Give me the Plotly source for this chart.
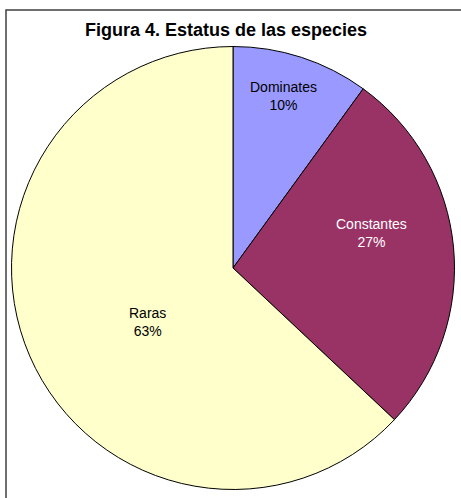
import math
import plotly.graph_objects as go

# --- Data ---
labels = ["Dominates", "Constantes", "Raras"]
values = [10, 27, 63]
colors = ["#9999FF", "#993366", "#FFFFCC"]
text_colors = ["#000000", "#FFFFFF", "#000000"]

# label placement (fraction of radius, angular nudge in degrees) — style only
label_r = [0.81, 0.645, 0.458]
label_nudge = [-1.7, -8.7, -8.7]

W, H = 461, 498
CX, CY, R = 233, 268, 221.5  # pie centre / radius in pixels

fig = go.Figure(go.Pie(
    labels=labels,
    values=values,
    sort=False,
    direction="clockwise",
    rotation=0,
    marker=dict(colors=colors, line=dict(color="#000000", width=1)),
    textinfo="none",
    domain=dict(x=[(CX - R) / W, (CX + R) / W], y=[1 - (CY + R) / H, 1 - (CY - R) / H]),
    showlegend=False,
    hoverinfo="label+percent",
))

# data labels, placed along each slice's mid-angle
total = sum(values)
cum = 0
for lab, v, col, f, nudge in zip(labels, values, text_colors, label_r, label_nudge):
    mid = (cum + v / 2) / total * 360 + nudge
    cum += v
    px = CX + R * f * math.sin(math.radians(mid))
    py = CY - R * f * math.cos(math.radians(mid))
    fig.add_annotation(
        x=px / W, y=1 - py / H, xref="paper", yref="paper",
        xanchor="center", yanchor="middle",
        text=f"{lab}<br>{round(v / total * 100)}%",
        showarrow=False, align="center",
        font=dict(family="Liberation Sans, Arial", size=14, color=col),
    )

# chart-area frame (only left and top edges are visible in the crop)
fig.add_shape(
    type="rect", xref="paper", yref="paper",
    x0=6 / W, x1=1.05, y0=-0.05, y1=1 - 10 / H,
    line=dict(color="#404040", width=1.5),
)

fig.update_layout(
    width=W, height=H,
    paper_bgcolor="#FFFFFF",
    plot_bgcolor="#FFFFFF",
    margin=dict(l=0, r=0, t=0, b=0),
    title=dict(
        text="<b>Figura 4. Estatus de las especies</b>",
        x=226 / W, xanchor="center",
        y=1 - 30 / H, yanchor="middle",
        font=dict(family="Liberation Sans, Arial", size=18, color="#000000"),
    ),
)

fig.write_html(
    "out.html",
    config={"displayModeBar": False},
    post_script="document.body.style.margin='0';",
)
